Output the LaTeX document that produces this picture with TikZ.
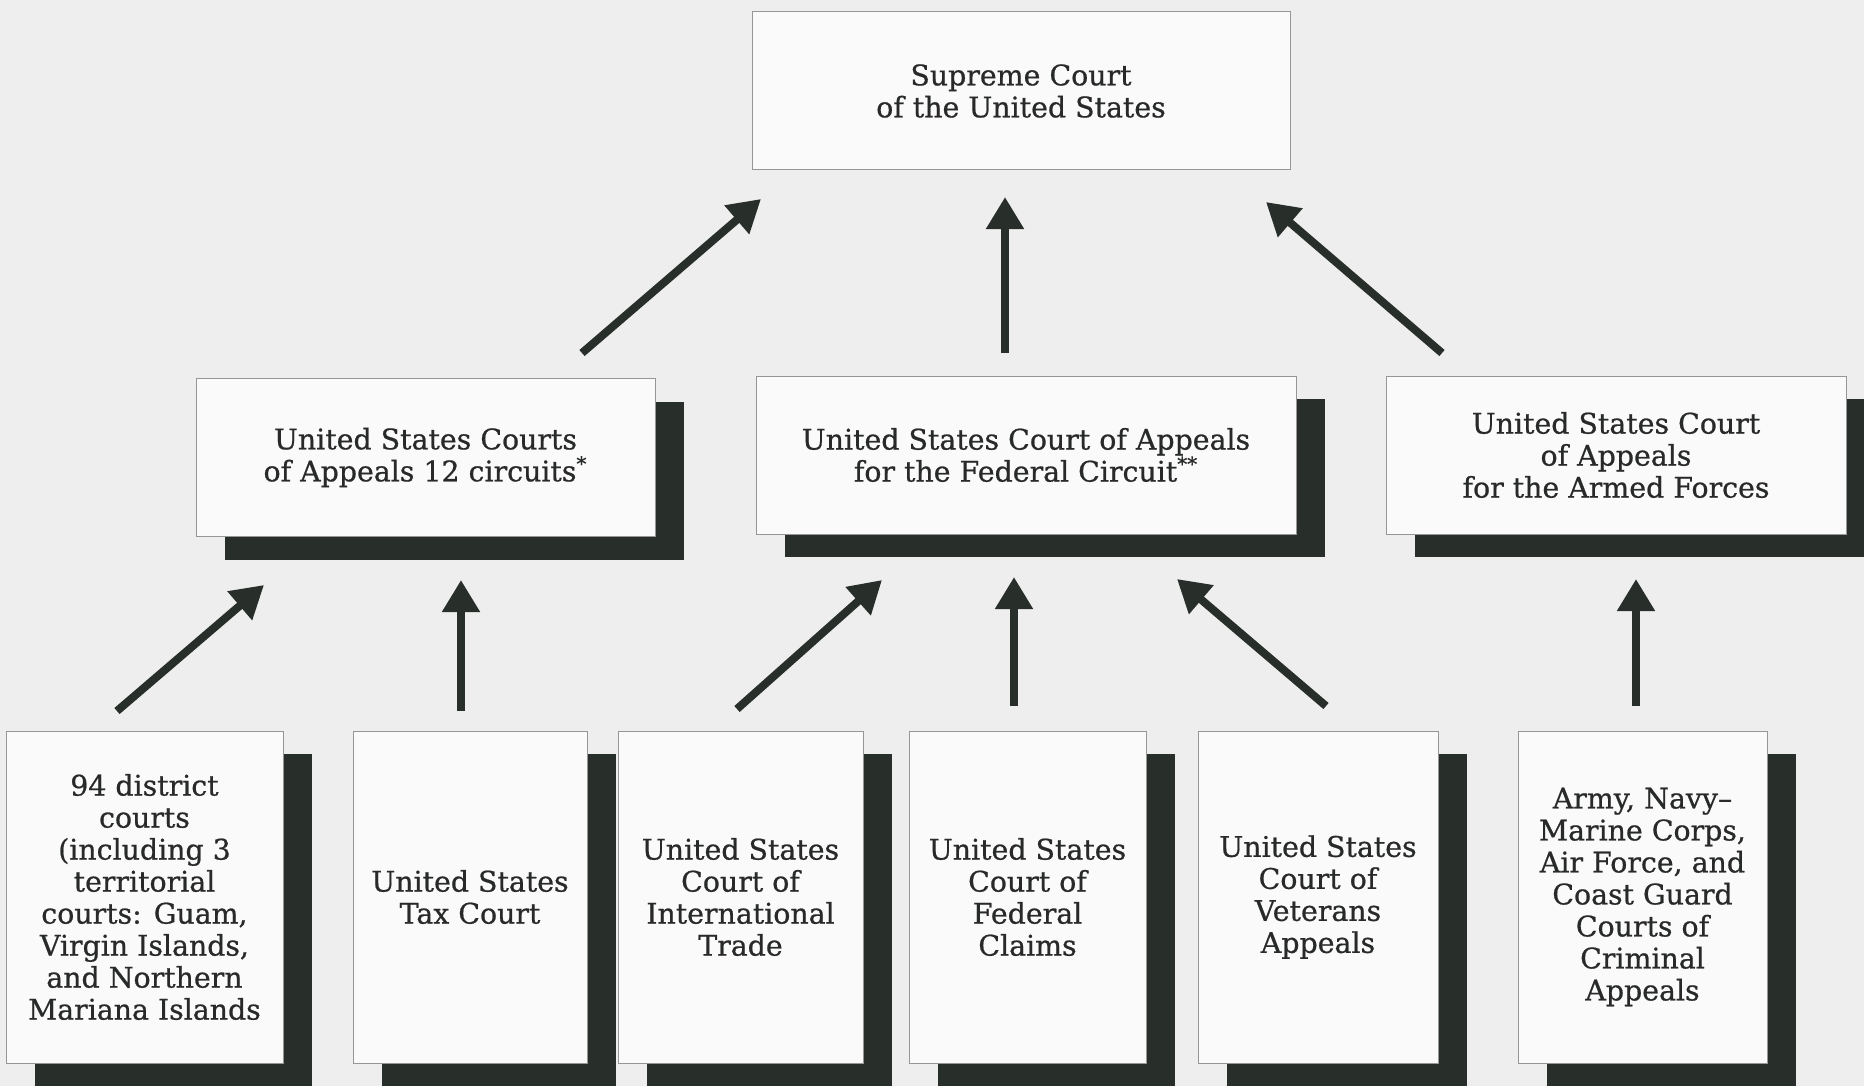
\documentclass[tikz,border=0pt]{standalone}
\usepackage{fontspec}
\setmainfont{DejaVu Serif}
\newfontfamily\courtfont{DejaVu Serif}[Ligatures=TeX,FakeBold=0.7]
\usetikzlibrary{arrows.meta,shadows}
\definecolor{paper}{RGB}{238,238,238}
\definecolor{boxfill}{RGB}{250,250,250}
\definecolor{inkgray}{RGB}{40,42,41}
\definecolor{shade}{RGB}{40,46,42}
\definecolor{rulegray}{RGB}{150,150,150}

\begin{document}
\begin{tikzpicture}[x=0.5pt,y=-0.5pt,
  court/.style={draw=rulegray,line width=0.5pt,fill=boxfill,align=center,
    text=inkgray,font=\courtfont\fontsize{14.2}{16}\selectfont,inner sep=0pt},
  wide/.style={court,minimum height=79pt},
  tall/.style={court,minimum height=166pt},
  shadowed/.style={drop shadow={shadow xshift=14.5pt,shadow yshift=-11.5pt,
    fill=shade,opacity=1}},
  flow/.style={-{Triangle[length=16pt,width=18pt]},line width=4pt,draw=shade}]

% paper
\fill[paper] (0,0) rectangle (1864,1086);
\useasboundingbox (0,0) rectangle (1864,1086);

% ======================= TOP: the Supreme Court =======================
\node[court,minimum width=269pt,minimum height=79pt] (supreme) at (1021,91)
  {Supreme Court\\of the United States};

% ======================= MIDDLE: courts of appeals ====================
\node[wide,shadowed,minimum width=229.5pt] (circuits) at (425.5,457.5)
  {United States Courts\\of Appeals 12 circuits\textsuperscript{*}};
\node[wide,shadowed,minimum width=270pt] (federal) at (1026,455)
  {United States Court of Appeals\\for the Federal Circuit\textsuperscript{**}};
\node[wide,shadowed,minimum width=230pt] (armed) at (1616,455)
  {United States Court\\of Appeals\\for the Armed Forces};

% ======================= BOTTOM: trial courts =========================
\node[tall,shadowed,minimum width=138.5pt] (district) at (144.5,897)
  {94 district\\courts\\(including 3\\territorial\\courts: Guam,\\Virgin Islands,\\and Northern\\Mariana Islands};
\node[tall,shadowed,minimum width=117pt] (tax) at (470,897)
  {United States\\Tax Court};
\node[tall,shadowed,minimum width=122.5pt] (trade) at (740.5,897)
  {United States\\Court of\\International\\Trade};
\node[tall,shadowed,minimum width=118.5pt] (claims) at (1027.5,897)
  {United States\\Court of\\Federal\\Claims};
\node[tall,shadowed,minimum width=120pt] (veterans) at (1318,897)
  {United States\\Court of\\Veterans\\Appeals};
\node[tall,shadowed,minimum width=124.5pt] (military) at (1642.5,897)
  {Army, Navy--\\Marine Corps,\\Air Force, and\\Coast Guard\\Courts of\\Criminal\\Appeals};

% arrow ends (the arrows float in the gaps between the rows)
\coordinate (circuitsUp) at (582,353);   \coordinate (supremeL) at (761,199);
\coordinate (federalUp)  at (1005,353);  \coordinate (supremeM) at (1005,197);
\coordinate (armedUp)    at (1442,353);  \coordinate (supremeR) at (1266,202);
\coordinate (districtUp) at (117,711);   \coordinate (circuitsL) at (264,585);
\coordinate (taxUp)      at (461,711);   \coordinate (circuitsM) at (461,580);
\coordinate (tradeUp)    at (737,709);   \coordinate (federalL) at (882,580);
\coordinate (claimsUp)   at (1014,706);  \coordinate (federalM) at (1014,577);
\coordinate (veteransUp) at (1326,706);  \coordinate (federalR) at (1177,579);
\coordinate (militaryUp) at (1636,706);  \coordinate (armedM)   at (1636,579);

\foreach \f/\t in {circuitsUp/supremeL,federalUp/supremeM,armedUp/supremeR,
    districtUp/circuitsL,taxUp/circuitsM,tradeUp/federalL,claimsUp/federalM,
    veteransUp/federalR,militaryUp/armedM}
  {\draw[flow] (\f) -- (\t);}

\end{tikzpicture}
\end{document}
